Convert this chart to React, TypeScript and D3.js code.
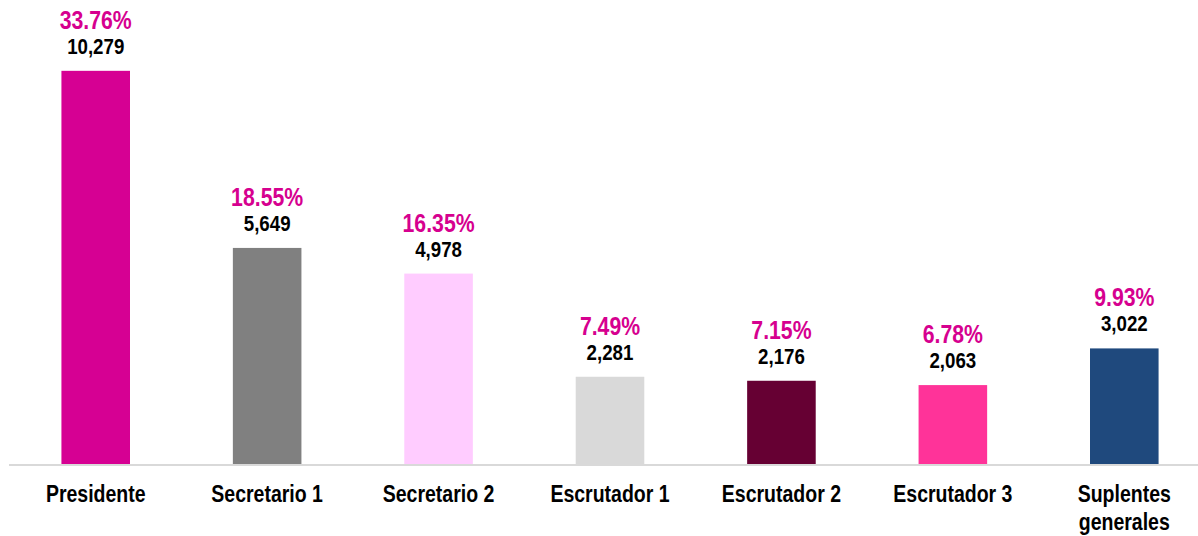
import React, { useRef, useEffect } from "react";
import * as d3 from "d3";

const categories = [
  "Presidente",
  "Secretario 1",
  "Secretario 2",
  "Escrutador 1",
  "Escrutador 2",
  "Escrutador 3",
  "Suplentes generales",
];
const counts = [10279, 5649, 4978, 2281, 2176, 2063, 3022];
const percents = ["33.76%", "18.55%", "16.35%", "7.49%", "7.15%", "6.78%", "9.93%"];
const barColors = ["#d60093", "#808080", "#ffccff", "#d9d9d9", "#660033", "#ff3399", "#1f497d"];

const WIDTH = 1198;
const HEIGHT = 536;
const FONT = "'Liberation Sans', Arial, sans-serif";
// no narrow font installed, so squeeze the bold sans horizontally
const SQUEEZE = 0.85;

const App = () => {
  const svgRef = useRef<SVGSVGElement>(null);

  useEffect(() => {
    const svg = d3.select(svgRef.current);
    svg.selectAll("*").remove();

    const baseline = 464;
    const x = d3
      .scaleBand<string>()
      .domain(categories)
      .range([10, 1210])
      .paddingInner(0.6)
      .paddingOuter(0.3);
    const y = d3.scaleLinear().domain([0, 12000]).range([baseline, 5]);
    const cx = (d: string) => x(d)! + x.bandwidth() / 2;

    const bars = svg
      .selectAll("g.bar")
      .data(categories)
      .join("g")
      .attr("class", "bar");

    bars
      .append("rect")
      .attr("x", (d) => x(d)!)
      .attr("y", (d, i) => y(counts[i]))
      .attr("width", x.bandwidth())
      .attr("height", (d, i) => baseline - y(counts[i]))
      .attr("fill", (d, i) => barColors[i]);

    // value labels
    bars
      .append("text")
      .attr("transform", (d, i) => `translate(${cx(d)},${y(counts[i]) - 17}) scale(${SQUEEZE},1)`)
      .attr("text-anchor", "middle")
      .attr("font-family", FONT)
      .attr("font-weight", "bold")
      .attr("font-size", 22)
      .attr("fill", "#000")
      .text((d, i) => d3.format(",")(counts[i]));

    bars
      .append("text")
      .attr("transform", (d, i) => `translate(${cx(d)},${y(counts[i]) - 42}) scale(${SQUEEZE},1)`)
      .attr("text-anchor", "middle")
      .attr("font-family", FONT)
      .attr("font-weight", "bold")
      .attr("font-size", 25)
      .attr("fill", "#d6008f")
      .text((d, i) => percents[i]);

    // axis line
    svg
      .append("line")
      .attr("x1", 9)
      .attr("x2", WIDTH)
      .attr("y1", baseline + 1)
      .attr("y2", baseline + 1)
      .attr("stroke", "#d9d9d9")
      .attr("stroke-width", 2);

    // category labels (long name wraps onto two lines)
    bars
      .append("text")
      .attr("transform", (d) => `translate(${cx(d)},502) scale(0.83,1)`)
      .attr("text-anchor", "middle")
      .attr("font-family", FONT)
      .attr("font-weight", "bold")
      .attr("font-size", 23.5)
      .attr("fill", "#000")
      .each(function (d) {
        const t = d3.select(this);
        const lines = d === "Suplentes generales" ? d.split(" ") : [d];
        lines.forEach((l, k) => {
          t.append("tspan")
            .attr("x", 0)
            .attr("dy", k === 0 ? 0 : 28)
            .text(l);
        });
      });
  }, []);

  return (
    <svg
      ref={svgRef}
      width={WIDTH}
      height={HEIGHT}
      style={{ position: "absolute", left: 0, top: 0, background: "#fff" }}
    />
  );
};

export default App;
